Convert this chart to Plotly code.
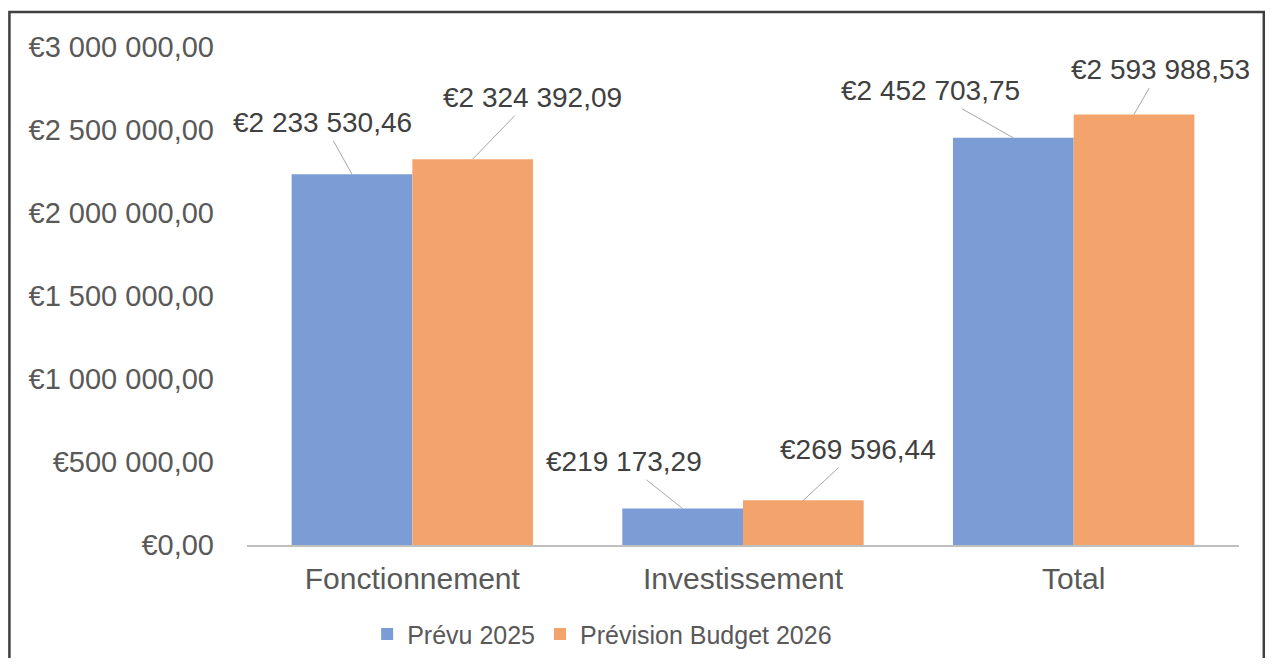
import plotly.graph_objects as go

categories = ["Fonctionnement", "Investissement", "Total"]
prevu_2025 = [2233530.46, 219173.29, 2452703.75]
prevision_2026 = [2324392.09, 269596.44, 2593988.53]
series_names = ["Prévu 2025", "Prévision Budget 2026"]
y_tickvals = [0, 500000, 1000000, 1500000, 2000000, 2500000, 3000000]
y_ticktext = ["€0,00", "€500 000,00", "€1 000 000,00", "€1 500 000,00",
              "€2 000 000,00", "€2 500 000,00", "€3 000 000,00"]

def fmt(v):
    s = f"{v:,.2f}"
    ent, dec = s.split(".")
    return "€" + ent.replace(",", " ") + "," + dec

BLUE = "#7b9cd4"
ORANGE = "#f3a46d"
FONT = "Liberation Sans, Arial, sans-serif"

fig = go.Figure()
fig.add_trace(go.Bar(x=list(range(len(categories))), y=prevu_2025, name=series_names[0],
                     marker_color=BLUE, marker_line_width=0))
fig.add_trace(go.Bar(x=list(range(len(categories))), y=prevision_2026, name=series_names[1],
                     marker_color=ORANGE, marker_line_width=0))

bargap = 0.27
half = (1 - bargap) / 4
offsets_blue = [(-29, -52), (-59, -47), (-83, -47)]
offsets_orange = [(60, -62), (55, -51), (26, -45)]
annotations = []
for i in range(len(categories)):
    for vals, off, sign in ((prevu_2025, offsets_blue, -1), (prevision_2026, offsets_orange, 1)):
        annotations.append(dict(
            x=i + sign * half, y=vals[i], xref="x", yref="y",
            text=fmt(vals[i]), showarrow=True, arrowhead=0, arrowwidth=1,
            arrowcolor="#a6a6a6", ax=off[i][0], ay=off[i][1],
            font=dict(family=FONT, size=28, color="#404040"),
            standoff=0, startstandoff=2,
        ))

fig.update_layout(
    width=1257, height=650,
    margin=dict(l=239, r=26, t=39, b=113, autoexpand=False),
    paper_bgcolor="white", plot_bgcolor="white",
    barmode="group", bargap=bargap, bargroupgap=0,
    font=dict(family=FONT, color="#595959"),
    showlegend=True,
    legend=dict(orientation="h", x=0.358, xanchor="center", y=-0.179, yanchor="middle",
                font=dict(family=FONT, size=25, color="#595959"),
                itemwidth=30, traceorder="normal", itemsizing="constant"),
    annotations=annotations,
    shapes=[dict(type="rect", xref="paper", yref="paper",
                 x0=-0.2395, x1=1.025, y0=-0.30, y1=1.0703,
                 line=dict(color="#3f3f3f", width=2.5), fillcolor="rgba(0,0,0,0)", layer="below")],
)
fig.update_xaxes(
    tickmode="array", tickvals=list(range(len(categories))), ticktext=categories,
    range=[-0.5, 2.5], showgrid=False, zeroline=False,
    showline=True, linecolor="#bfbfbf", linewidth=2,
    ticks="", tickfont=dict(family=FONT, size=30, color="#595959"),
    ticklabelstandoff=6,
)
fig.update_yaxes(
    range=[0, 3000000], tickmode="array", tickvals=y_tickvals, ticktext=y_ticktext,
    showgrid=False, zeroline=False, showline=False,
    tickfont=dict(family=FONT, size=29, color="#595959"),
    ticklabelstandoff=32,
)

fig.write_html("out.html")
